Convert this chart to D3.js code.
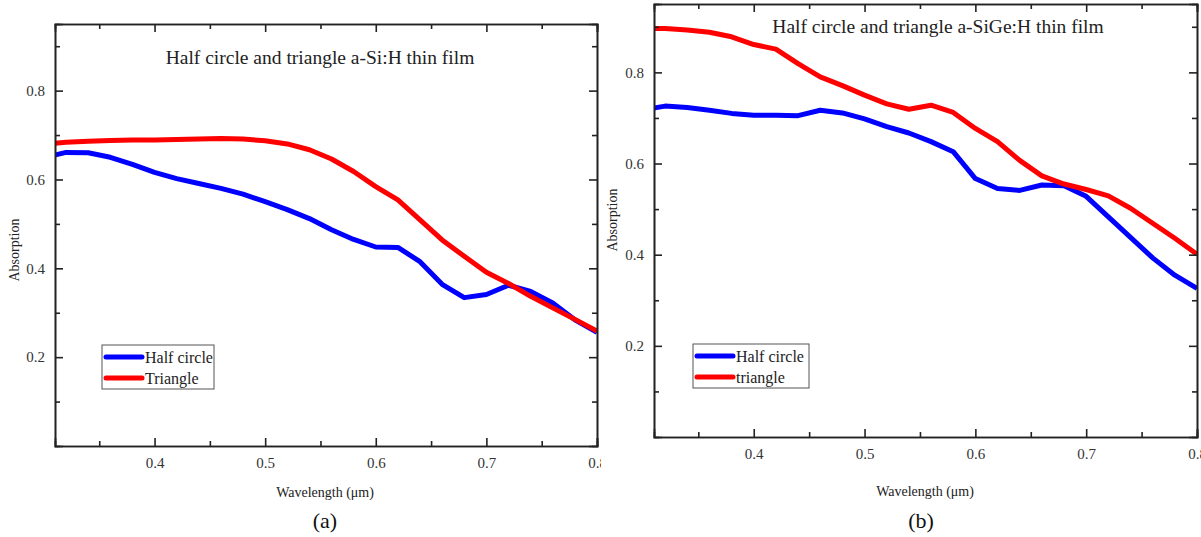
<!DOCTYPE html>
<html>
<head>
<meta charset="utf-8">
<script src="https://cdn.jsdelivr.net/npm/d3@7"></script>
<style>
  body { margin: 0; background: #fff; }
  svg { display: block; font-family: "Liberation Serif", "Times New Roman", serif; }
  .axis path, .axis line { stroke: #222; stroke-width: 1.6; }
  .axis text { font-size: 15px; fill: #333; font-family: "Liberation Serif", serif; }
</style>
</head>
<body>
<svg width="1201" height="537"></svg>
<script>
// wavelength in micrometres, one sample every 0.02
const wavelength = [0.30, 0.32, 0.34, 0.36, 0.38, 0.40, 0.42, 0.44, 0.46, 0.48, 0.50, 0.52, 0.54,
  0.56, 0.58, 0.60, 0.62, 0.64, 0.66, 0.68, 0.70, 0.72, 0.74, 0.76, 0.78, 0.80];

// (a) a-Si:H
const halfCircleA = [0.649, 0.661, 0.660, 0.650, 0.634, 0.616, 0.602, 0.591, 0.580, 0.567, 0.550, 0.532, 0.512,
  0.487, 0.465, 0.448, 0.447, 0.415, 0.364, 0.334, 0.341, 0.362, 0.348, 0.322, 0.284, 0.256];
const triangleA = [0.679, 0.684, 0.686, 0.688, 0.689, 0.689, 0.690, 0.691, 0.692, 0.691, 0.687, 0.680, 0.667,
  0.646, 0.618, 0.584, 0.554, 0.509, 0.464, 0.427, 0.391, 0.366, 0.337, 0.311, 0.285, 0.259];

// (b) a-SiGe:H
const halfCircleB = [0.718, 0.726, 0.723, 0.717, 0.710, 0.706, 0.706, 0.705, 0.717, 0.711, 0.698, 0.681, 0.667,
  0.648, 0.626, 0.567, 0.545, 0.541, 0.553, 0.551, 0.528, 0.483, 0.438, 0.393, 0.355, 0.326];
const triangleB = [0.897, 0.896, 0.893, 0.888, 0.878, 0.861, 0.851, 0.819, 0.790, 0.771, 0.750, 0.731, 0.719,
  0.728, 0.712, 0.677, 0.648, 0.607, 0.573, 0.555, 0.543, 0.529, 0.502, 0.469, 0.436, 0.401];

const xTicks = [0.4, 0.5, 0.6, 0.7, 0.8];
const xMinorTicks = [0.35, 0.45, 0.55, 0.65, 0.75];
const yTicks = [0.2, 0.4, 0.6, 0.8];
const yMinorTicks = [0.1, 0.3, 0.5, 0.7, 0.9];

const svg = d3.select('svg');

function drawPanel(p) {
  const g = svg.append('g').attr('clip-path', p.clipOuter ? 'url(#' + p.id + '-outer)' : null);
  if (p.clipOuter) {
    svg.append('clipPath').attr('id', p.id + '-outer')
      .append('rect').attr('x', 0).attr('y', 0).attr('width', p.clipOuter).attr('height', 537);
  }
  const x = d3.scaleLinear().domain([0.31, 0.8]).range([p.left, p.right]);
  const y = d3.scaleLinear().domain([0, 0.95]).range([p.bottom, p.top]);

  svg.append('clipPath').attr('id', p.id + '-plot')
    .append('rect').attr('x', p.left).attr('y', p.top)
    .attr('width', p.right - p.left).attr('height', p.bottom - p.top);

  const line = d3.line().x((d, i) => x(wavelength[i])).y(d => y(d));
  const series = [{values: p.half, color: '#0000ff'}, {values: p.tri, color: '#ff0000'}];
  // red drawn last so it sits on top like the original
  g.append('g').attr('clip-path', 'url(#' + p.id + '-plot)')
    .selectAll('path').data(series).enter().append('path')
    .attr('d', d => line(d.values))
    .attr('fill', 'none')
    .attr('stroke', d => d.color)
    .attr('stroke-width', 5)
    .attr('stroke-linejoin', 'round');

  // axes, ticks pointing inward
  g.append('g').attr('class', 'axis').attr('transform', 'translate(0,' + p.bottom + ')')
    .call(d3.axisBottom(x).tickValues(xTicks).tickSize(-8).tickPadding(11).tickFormat(d3.format('.1f')));
  g.append('g').attr('class', 'axis').attr('transform', 'translate(0,' + p.bottom + ')')
    .call(d3.axisBottom(x).tickValues(xMinorTicks).tickSize(-5).tickFormat(''));
  g.append('g').attr('class', 'axis').attr('transform', 'translate(0,' + p.top + ')')
    .call(d3.axisTop(x).tickValues(xTicks).tickSize(-8).tickFormat(''));
  g.append('g').attr('class', 'axis').attr('transform', 'translate(0,' + p.top + ')')
    .call(d3.axisTop(x).tickValues(xMinorTicks).tickSize(-5).tickFormat(''));

  g.append('g').attr('class', 'axis').attr('transform', 'translate(' + p.left + ',0)')
    .call(d3.axisLeft(y).tickValues(yTicks).tickSize(-8).tickPadding(10).tickFormat(d3.format('.1f')));
  g.append('g').attr('class', 'axis').attr('transform', 'translate(' + p.left + ',0)')
    .call(d3.axisLeft(y).tickValues(yMinorTicks).tickSize(-5).tickFormat(''));
  g.append('g').attr('class', 'axis').attr('transform', 'translate(' + p.right + ',0)')
    .call(d3.axisRight(y).tickValues(yTicks).tickSize(-8).tickFormat(''));
  g.append('g').attr('class', 'axis').attr('transform', 'translate(' + p.right + ',0)')
    .call(d3.axisRight(y).tickValues(yMinorTicks).tickSize(-5).tickFormat(''));
  g.selectAll('.axis .domain').attr('stroke-width', 2);

  // title inside the frame
  g.append('text').attr('x', p.titleX).attr('y', p.titleY)
    .attr('text-anchor', 'middle').attr('font-size', 19.5).attr('fill', '#222')
    .text(p.title);

  // axis titles
  g.append('text').attr('x', p.xLabelX).attr('y', p.xLabelY)
    .attr('text-anchor', 'middle').attr('font-size', 14).attr('fill', '#222')
    .text('Wavelength (\u03bcm)');
  g.append('text')
    .attr('transform', 'translate(' + p.yLabelX + ',' + p.yLabelY + ') rotate(-90)')
    .attr('text-anchor', 'middle').attr('font-size', 14).attr('fill', '#222')
    .text('Absorption');

  // legend
  const lg = g.append('g').attr('transform', 'translate(' + p.legX + ',' + p.legY + ')');
  lg.append('rect').attr('width', p.legW).attr('height', 44)
    .attr('fill', '#fff').attr('stroke', '#555').attr('stroke-width', 1);
  const items = lg.selectAll('g.item').data([
    {name: 'Half circle', color: '#0000ff'},
    {name: p.triName, color: '#ff0000'}
  ]).enter().append('g').attr('class', 'item')
    .attr('transform', (d, i) => 'translate(0,' + (12 + i * 21) + ')');
  items.append('line').attr('x1', 4).attr('x2', 40)
    .attr('stroke', d => d.color).attr('stroke-width', 5).attr('stroke-linecap', 'round');
  items.append('text').attr('x', 43).attr('y', 5.5)
    .attr('font-size', 16).attr('fill', '#222').text(d => d.name);

  // panel caption
  g.append('text').attr('x', p.capX).attr('y', 528)
    .attr('text-anchor', 'middle').attr('font-size', 22).attr('fill', '#111')
    .text(p.caption);
}

drawPanel({
  id: 'pa', left: 55, right: 597, top: 24, bottom: 446, clipOuter: 601,
  half: halfCircleA, tri: triangleA, triName: 'Triangle',
  title: 'Half circle and triangle a-Si:H thin film', titleX: 320, titleY: 64,
  xLabelX: 325, xLabelY: 497, yLabelX: 19, yLabelY: 250,
  legX: 102, legY: 345, legW: 112, capX: 325, caption: '(a)'
});

drawPanel({
  id: 'pb', left: 654, right: 1197, top: 4, bottom: 437, clipOuter: null,
  half: halfCircleB, tri: triangleB, triName: 'triangle',
  title: 'Half circle and triangle a-SiGe:H thin film', titleX: 938, titleY: 33,
  xLabelX: 925, xLabelY: 496, yLabelX: 617, yLabelY: 220,
  legX: 693, legY: 344, legW: 116, capX: 921, caption: '(b)'
});
</script>
</body>
</html>
